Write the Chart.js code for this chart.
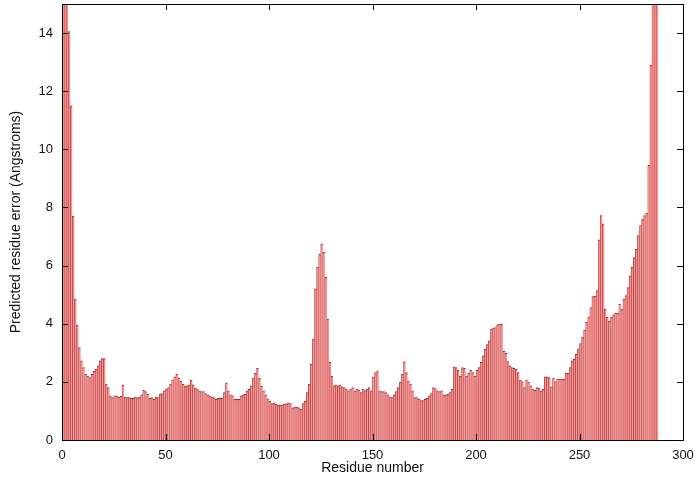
<!DOCTYPE html>
<html>
<head>
<meta charset="utf-8">
<script src="https://cdn.jsdelivr.net/npm/chart.js@4/dist/chart.umd.min.js"></script>
<style>
  html, body { margin: 0; padding: 0; background: #ffffff; }
  #wrap { width: 699px; height: 482px; }
</style>
</head>
<body>
<div id="wrap"><canvas id="c" width="699" height="482"></canvas></div>
<script>
// Predicted residue error (Angstroms) per residue, index = residue (bar spans [i, i+1])
const errors = [
  22, 18, 15.5, 14.05, 11.5, 7.7, 4.85, 3.95, 3.18, 2.72,
  2.49, 2.26, 2.2, 2.15, 2.26, 2.36, 2.44, 2.55, 2.72, 2.8,
  2.8, 1.92, 1.8, 1.52, 1.46, 1.52, 1.52, 1.48, 1.5, 1.9,
  1.48, 1.46, 1.46, 1.43, 1.43, 1.48, 1.46, 1.48, 1.55, 1.71,
  1.67, 1.58, 1.43, 1.46, 1.40, 1.48, 1.46, 1.58, 1.6, 1.69,
  1.75, 1.8, 1.92, 2.06, 2.17, 2.26, 2.13, 2.03, 1.92, 1.86,
  1.86, 1.9, 2.06, 1.9, 1.79, 1.75, 1.69, 1.67, 1.67, 1.6,
  1.55, 1.52, 1.48, 1.46, 1.40, 1.43, 1.43, 1.43, 1.63, 1.97,
  1.69, 1.55, 1.52, 1.40, 1.40, 1.40, 1.52, 1.55, 1.58, 1.69,
  1.75, 1.86, 2.13, 2.29, 2.47, 2.13, 1.85, 1.69, 1.55, 1.42,
  1.34, 1.25, 1.28, 1.23, 1.2, 1.2, 1.2, 1.23, 1.25, 1.28,
  1.25, 1.11, 1.13, 1.13, 1.11, 1.06, 1.25, 1.34, 1.63, 1.92,
  2.61, 3.47, 5.2, 5.94, 6.4, 6.75, 6.46, 5.6, 4.16, 2.67,
  2.2, 1.86, 1.9, 1.86, 1.9, 1.83, 1.8, 1.75, 1.69, 1.75,
  1.8, 1.69, 1.75, 1.72, 1.63, 1.75, 1.7, 1.75, 1.8, 1.69,
  2.17, 2.32, 2.38, 1.69, 1.67, 1.67, 1.63, 1.55, 1.48, 1.46,
  1.55, 1.67, 1.8, 1.98, 2.26, 2.7, 2.32, 2.03, 1.92, 1.69,
  1.46, 1.46, 1.4, 1.36, 1.36, 1.4, 1.43, 1.52, 1.6, 1.8,
  1.77, 1.69, 1.67, 1.69, 1.55, 1.55, 1.58, 1.63, 1.75, 2.52,
  2.49, 2.4, 2.2, 2.49, 2.47, 2.2, 2.3, 2.4, 2.32, 2.2,
  2.4, 2.49, 2.67, 2.9, 3.13, 3.28, 3.41, 3.82, 3.85, 3.87,
  3.97, 3.99, 3.99, 3.05, 2.98, 2.7, 2.55, 2.49, 2.47, 2.44,
  2.32, 2.06, 2.01, 1.8, 2.06, 1.98, 1.86, 1.75, 1.71, 1.8,
  1.79, 1.69, 1.75, 2.17, 2.17, 2.15, 1.83, 2.13, 2.01, 2.1,
  2.1, 2.1, 2.1, 2.3, 2.3, 2.49, 2.72, 2.78, 2.95, 3.13,
  3.32, 3.53, 3.78, 4.05, 4.24, 4.56, 4.93, 4.95, 5.14, 6.89,
  7.72, 7.44, 4.51, 4.22, 4.08, 4.22, 4.31, 4.36, 4.36, 4.68,
  4.5, 4.85, 4.97, 5.24, 5.65, 5.95, 6.28, 6.57, 7.03, 7.38,
  7.6, 7.72, 7.8, 9.45, 12.9, 20, 25, 18
];
const xTicks = [0, 50, 100, 150, 200, 250, 300];
const yTicks = [0, 2, 4, 6, 8, 10, 12, 14];
const xTitle = 'Residue number';
const yTitle = 'Predicted residue error (Angstroms)';

const points = errors.map((v, i) => ({ x: i + 0.5, y: v }));

const FAMILY = '"Liberation Sans", Arial, Helvetica, sans-serif';
const TICK_FONT = { family: FAMILY, size: 13 };
const TITLE_FONT = { family: FAMILY, size: 14 };

const framePlugin = {
  id: 'frame',
  afterDatasetsDraw(chart) {
    const { ctx, chartArea: a, scales } = chart;
    const len = 6;
    ctx.save();
    ctx.strokeStyle = '#000';
    ctx.lineWidth = 1;
    ctx.beginPath();
    yTicks.forEach(t => {
      const y = Math.round(scales.y.getPixelForValue(t)) + 0.5;
      ctx.moveTo(a.left, y); ctx.lineTo(a.left + len, y);
      ctx.moveTo(a.right, y); ctx.lineTo(a.right - len, y);
    });
    xTicks.forEach(t => {
      const x = Math.round(scales.x.getPixelForValue(t)) + 0.5;
      ctx.moveTo(x, a.bottom); ctx.lineTo(x, a.bottom - len);
      ctx.moveTo(x, a.top); ctx.lineTo(x, a.top + len);
    });
    ctx.stroke();
    ctx.strokeRect(Math.round(a.left) + 0.5, Math.round(a.top) + 0.5,
                   Math.round(a.right - a.left), Math.round(a.bottom - a.top));
    ctx.restore();
  }
};

new Chart(document.getElementById('c'), {
  type: 'bar',
  data: {
    datasets: [{
      data: points,
      backgroundColor: 'rgb(246,146,146)',
      borderColor: 'rgb(150,40,40)',
      borderWidth: { left: 0.6, top: 1, right: 0, bottom: 0 },
      borderSkipped: false,
      categoryPercentage: 1.0,
      barPercentage: 1.0
    }]
  },
  options: {
    responsive: false,
    animation: false,
    events: [],
    layout: { padding: { top: 4, right: 16, left: 0, bottom: 0 } },
    plugins: { legend: { display: false }, tooltip: { enabled: false } },
    scales: {
      x: {
        type: 'linear',
        min: 0, max: 300,
        offset: false,
        afterBuildTicks: s => { s.ticks = xTicks.map(v => ({ value: v })); },
        afterFit: s => { s.height = 42; s.paddingLeft = 0; s.paddingRight = 0; },
        grid: { display: false, drawTicks: false },
        border: { display: false },
        ticks: { color: '#111', font: TICK_FONT, padding: 8, maxRotation: 0, autoSkip: false },
        title: { display: true, text: xTitle, color: '#111', font: TITLE_FONT, padding: { top: 0, bottom: 5 } }
      },
      y: {
        min: 0, max: 15,
        afterBuildTicks: s => { s.ticks = yTicks.map(v => ({ value: v })); },
        afterFit: s => { s.width = 62; s.paddingTop = 0; s.paddingBottom = 0; },
        grid: { display: false, drawTicks: false },
        border: { display: false },
        ticks: { color: '#111', font: TICK_FONT, padding: 9, autoSkip: false },
        title: { display: true, text: yTitle, color: '#111', font: TITLE_FONT, padding: { top: 8, bottom: 0 } }
      }
    }
  },
  plugins: [framePlugin]
});
</script>
</body>
</html>
